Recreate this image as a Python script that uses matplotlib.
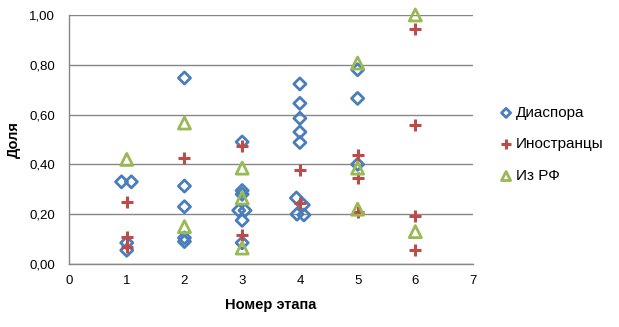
import matplotlib
matplotlib.use('Agg')
import matplotlib.pyplot as plt
from matplotlib.ticker import FuncFormatter

# stage number (small offsets where points sit side by side) and share
diaspora_x = [0.91, 1.08, 1, 1,
              2, 2, 2, 2, 2,
              3, 3, 3, 2.94, 3.05, 3, 3,
              4, 4, 4, 4, 4, 3.94, 4.06, 3.95, 4.07,
              5, 5, 5]
diaspora_y = [0.33, 0.33, 0.085, 0.055,
              0.747, 0.313, 0.230, 0.105, 0.090,
              0.490, 0.295, 0.280, 0.215, 0.215, 0.175, 0.085,
              0.723, 0.645, 0.585, 0.530, 0.488, 0.265, 0.237, 0.200, 0.197,
              0.780, 0.665, 0.400]

foreign_x = [1, 1, 1, 2, 3, 3, 4, 4, 5, 5, 5, 6, 6, 6, 6]
foreign_y = [0.250, 0.110, 0.070, 0.426, 0.474, 0.115, 0.377, 0.245,
             0.437, 0.345, 0.208, 0.944, 0.558, 0.193, 0.056]

rf_x = [1, 2, 2, 3, 3, 3, 5, 5, 5, 6, 6]
rf_y = [0.420, 0.566, 0.150, 0.385, 0.265, 0.064, 0.807, 0.385, 0.220,
        1.000, 0.130]

x_ticks = [0, 1, 2, 3, 4, 5, 6, 7]
y_ticks = [0, 0.2, 0.4, 0.6, 0.8, 1.0]

plt.rcParams['font.family'] = ['Liberation Sans', 'DejaVu Sans']

fig = plt.figure(figsize=(6.19, 3.27), dpi=100, facecolor='white')
ax = fig.add_axes([0.1115, 0.1927, 0.6527, 0.7615])

ax.scatter(diaspora_x, diaspora_y, marker='D', s=38, facecolors='none',
           edgecolors='#4A7EBB', linewidths=2, label='Диаспора', zorder=3)
ax.scatter(foreign_x, foreign_y, marker='+', s=80, color='#BE4B48',
           linewidths=2.2, label='Иностранцы', zorder=4)
ax.scatter(rf_x, rf_y, marker='^', s=75, facecolors='none',
           edgecolors='#98B954', linewidths=2, label='Из РФ', zorder=5)

ax.set_xlim(0, 7)
ax.set_ylim(0, 1.0)
ax.set_xticks(x_ticks)
ax.set_yticks(y_ticks)
ax.yaxis.set_major_formatter(FuncFormatter(lambda v, p: '{:.2f}'.format(v).replace('.', ',')))
ax.tick_params(length=0, labelsize=9.5, pad=8)
ax.tick_params(axis='y', pad=10)
ax.grid(axis='y', color='#868686', linewidth=1)
ax.set_axisbelow(True)
for side in ['top', 'right']:
    ax.spines[side].set_visible(False)
for side in ['left', 'bottom']:
    ax.spines[side].set_color('#868686')
    ax.spines[side].set_linewidth(1)

ax.set_xlabel('Номер этапа', fontsize=10.5, fontweight='bold', labelpad=8)
ax.set_ylabel('Доля', fontsize=10.5, fontweight='bold', labelpad=6)

ax.legend(loc='center left', bbox_to_anchor=(1.025, 0.48), frameon=False,
          fontsize=11, handletextpad=0.05, labelspacing=1.15, markerscale=0.75,
          handlelength=1.2)
for coll in ax.collections:
    coll.set_clip_on(False)

fig.savefig('out.png', dpi=100)
